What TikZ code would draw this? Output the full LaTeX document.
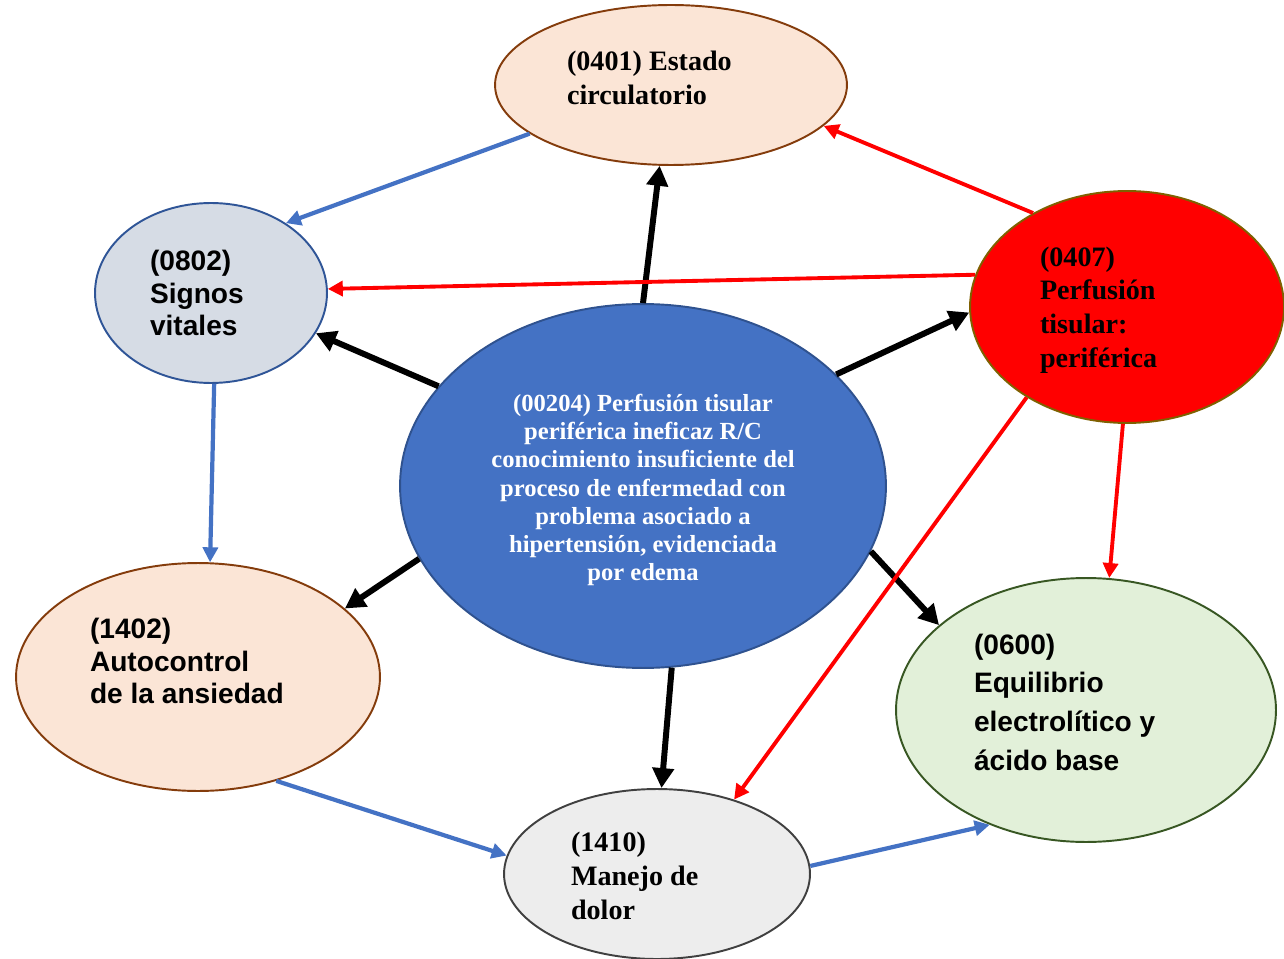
\documentclass[tikz,border=0pt]{standalone}
\usepackage{fontspec}
\setmainfont{Liberation Serif}
\setsansfont{Liberation Sans}
\usetikzlibrary{shapes.geometric,arrows.meta}
\definecolor{peach}{HTML}{FBE5D6}
\definecolor{peachline}{HTML}{843C0C}
\definecolor{greyblue}{HTML}{D6DCE5}
\definecolor{greyblueline}{HTML}{2F5597}
\definecolor{midblue}{HTML}{4472C4}
\definecolor{midblueline}{HTML}{2F528F}
\definecolor{oliveline}{HTML}{7F6000}
\definecolor{palegreen}{HTML}{E2F0D9}
\definecolor{greenline}{HTML}{385723}
\definecolor{palegrey}{HTML}{EDEDED}
\definecolor{greyline}{HTML}{404040}
\begin{document}
\begin{tikzpicture}[x=0.02cm, y=-0.02cm,
    oval/.style={ellipse, draw, line width=1.1pt, inner sep=0pt},
    sertxt/.style={font=\bfseries\fontsize{16}{19.2}\selectfont, align=flush left},
    santxt/.style={font=\sffamily\bfseries\fontsize{16}{18.6}\selectfont, align=flush left},
    blackarr/.style={-{Triangle[length=0.4cm,width=0.42cm]}, line width=3.4pt, black},
    redarr/.style={-{Triangle[length=0.3cm,width=0.3cm]}, line width=2.2pt, red},
    bluearr/.style={-{Triangle[length=0.3cm,width=0.3cm]}, line width=2.4pt, midblue}]
  \useasboundingbox (0,0) rectangle (1284,959);

  \node[oval, fill=peach, draw=peachline, minimum width=7.04cm, minimum height=3.2cm,
    label={[sertxt, name=estT, text width=4.16cm, yshift=0.14cm]center:{(0401) Estado\\circulatorio}}] (est) at (671,85) {};

  \node[oval, fill=greyblue, draw=greyblueline, minimum width=4.64cm, minimum height=3.6cm,
    label={[santxt, name=sigT, text width=2.44cm]center:{(0802)\\Signos\\vitales}}] (sig) at (211,293) {};

  \node[oval, fill=red, draw=oliveline, minimum width=6.28cm, minimum height=4.64cm,
    label={[sertxt, name=perT, text width=3.48cm, yshift=-0.06cm]center:{(0407)\\Perfusión\\tisular:\\periférica}}] (per) at (1127,307) {};

  \node[oval, fill=midblue, draw=midblueline, minimum width=9.72cm, minimum height=7.28cm,
    label={[name=cenT, text=white, align=center, yshift=-0.08cm, font=\bfseries\fontsize{14}{16}\selectfont]center:{(00204) Perfusión tisular\\periférica ineficaz R/C\\conocimiento insuficiente del\\proceso de enfermedad con\\problema asociado a\\hipertensión, evidenciada\\por edema}}] (cen) at (643,486) {};

  \node[oval, fill=peach, draw=peachline, minimum width=7.28cm, minimum height=4.56cm,
    label={[santxt, name=autT, text width=4.32cm, yshift=0.32cm]center:{(1402)\\Autocontrol\\de la ansiedad}}] (aut) at (198,677) {};

  \node[oval, fill=palegreen, draw=greenline, minimum width=7.6cm, minimum height=5.28cm,
    label={[santxt, name=equT, text width=4.48cm, yshift=0.16cm, font=\sffamily\bfseries\fontsize{16}{22}\selectfont]center:{(0600)\\Equilibrio\\electrolítico y\\ácido base}}] (equ) at (1086,710) {};

  \node[oval, fill=palegrey, draw=greyline, minimum width=6.12cm, minimum height=3.4cm,
    label={[sertxt, name=manT, text width=3.44cm, yshift=-0.04cm]center:{(1410)\\Manejo de\\dolor}}] (man) at (657,874) {};

  % black arrows from the central diagnosis
  \draw[blackarr] (cen.90) -- (est.262);
  \draw[blackarr] (cen.154) -- (sig.339);
  \draw[blackarr] (cen.30) -- (per.182);
  \draw[blackarr] (cen.198) -- (aut.25);
  \draw[blackarr] (cen.279) -- (man.87);
  \draw[blackarr] (cen.344) -- (equ.150);

  % red arrows
  \draw[redarr] (per.135) -- (est.345);
  \draw[redarr] (per.168) -- (sig.2);
  \draw[redarr] (per.222) -- (man.44);
  \draw[redarr] (per.268) -- (equ.80);

  % blue arrows
  \draw[bluearr] (est.199) -- (sig.43);
  \draw[bluearr] (sig.272) -- (aut.84);
  \draw[bluearr] (aut.307) -- (man.173);
  \draw[bluearr] (man.3) -- (equ.230);
\end{tikzpicture}
\end{document}
